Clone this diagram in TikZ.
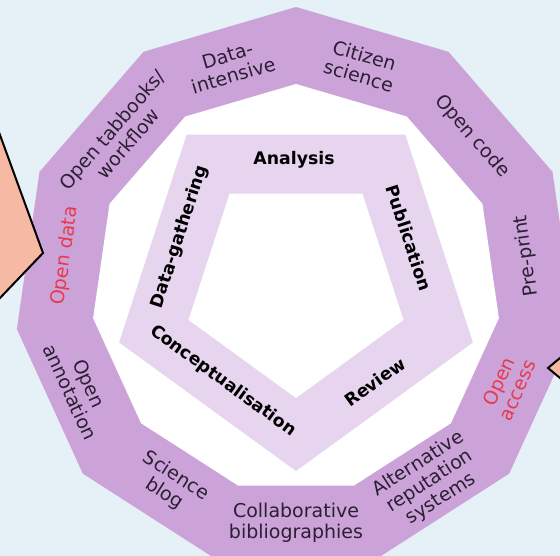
\documentclass[tikz,border=0pt]{standalone}
\usepackage{fontspec}
\setmainfont{DejaVu Sans}
\definecolor{bg}{HTML}{E5F0F7}
\definecolor{ringc}{HTML}{CCA3D9}
\definecolor{pentc}{HTML}{E7D5EF}
\definecolor{salmon}{HTML}{F5B9A4}
\definecolor{txt}{HTML}{2B1F33}
\definecolor{redt}{HTML}{E83A4E}
\begin{document}
\begin{tikzpicture}[x=1pt,y=1pt,
  lab/.style={text=txt, align=center, font=\fontsize{19}{21}\selectfont, inner sep=0pt},
  redlab/.style={lab, text=redt},
  blab/.style={text=black, align=center, font=\fontsize{17.3}{19}\selectfont\bfseries, inner sep=0pt},
  callout/.style={fill=salmon, draw=black, line width=2pt, line join=miter}]
\useasboundingbox (0,0) rectangle (560,556);
\clip (0,0) rectangle (560,556);
\fill[bg] (0,0) rectangle (560,556);
\coordinate (C) at (296,267);
\coordinate (P) at (296,271);
% hendecagon ring
\fill[ringc, shift={(296,267)}] (90:282) \foreach \k in {1,...,10}{ -- ({90+\k*360/11}:282)} -- cycle;
\fill[white, shift={(296,267)}] (90:205) \foreach \k in {1,...,10}{ -- ({90+\k*360/11}:205)} -- cycle;
% pentagon ring
\fill[pentc, shift={(296,271)}] (-90:186) \foreach \k in {1,...,4}{ -- ({-90+\k*72}:186)} -- cycle;
\fill[white, shift={(296,271)}] (-90:113) \foreach \k in {1,...,4}{ -- ({-90+\k*72}:113)} -- cycle;
% callouts
\filldraw[callout] (-21.5,480) -- (43,303) -- (-21.5,235.5) -- (-60,235.5) -- (-60,480) -- cycle;
\filldraw[callout] (584,218) -- (548,188) -- (584,158) -- (620,158) -- (620,218) -- cycle;
% outer labels
\path (C) ++(73.64:233) node[lab, rotate=-16.36] (citizen) {Citizen\\science};
\path (C) ++(40.91:233) node[lab, rotate=-49.09] (code) {Open code};
\path (C) ++(8.18:233) node[lab, rotate=98.18] (preprint) {Pre-print};
\path (C) ++(-24.55:233) node[redlab, rotate=65.45] (access) {Open\\access};
\path (C) ++(-57.27:231) ++(12:9) node[lab, rotate=32.73] (altrep) {Alternative\\reputation\\systems};
\path (C) ++(-90:234) node[lab, rotate=0] (collab) {Collaborative\\bibliographies};
\path (C) ++(-122.73:233) node[lab, rotate=-32.73] (blog) {Science\\blog};
\path (C) ++(-155.45:238) node[lab, rotate=-65.45] (annot) {Open\\annotation};
\path (C) ++(171.82:233) node[redlab, rotate=81.82] (data) {Open data};
\path (C) ++(139.09:233) node[lab, rotate=49.09] (tabbooks) {Open tabbooks/\\workflow};
\path (C) ++(106.36:233) node[lab, rotate=16.36] (intensive) {Data-\\intensive};
% pentagon labels
\node[blab] (analysis) at (294,396) {Analysis};
\node[blab, rotate=-72] (publication) at (409,318) {Publication};
\node[blab, rotate=36] (review) at (375,174) {Review};
\node[blab, rotate=-36] (concept) at (223,175) {Conceptualisation};
\node[blab, rotate=72] (gathering) at (180,319) {Data-gathering};
\end{tikzpicture}
\end{document}
